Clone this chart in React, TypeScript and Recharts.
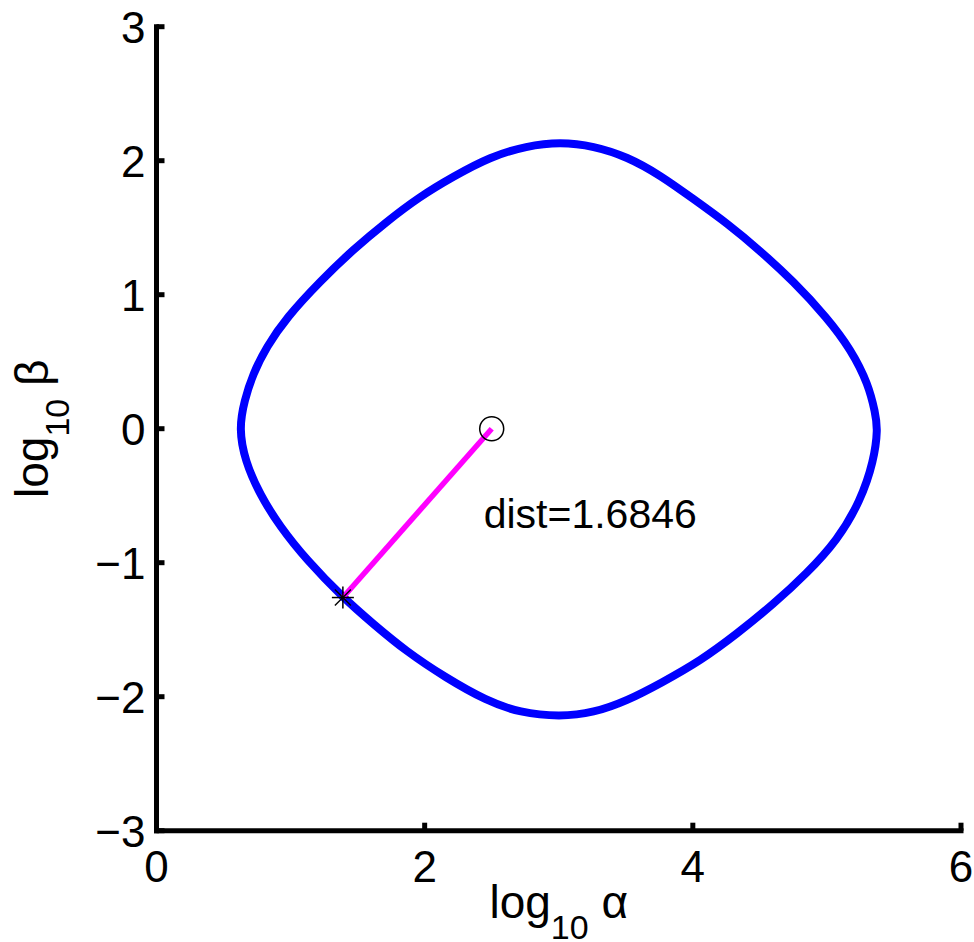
import React from 'react';
import { ComposedChart, Line, Scatter, XAxis, YAxis } from 'recharts';

// Contour of the closed curve (log10 alpha, log10 beta)
const contourLogAlpha = [
  5.38, 5.36, 5.31, 5.18, 5.0, 4.75, 4.5, 4.26, 4.01, 3.76, 3.51, 3.26, 3.01,
  2.76, 2.49, 2.21, 1.96, 1.71, 1.47, 1.22, 0.97, 0.82, 0.72, 0.655, 0.615,
  0.66, 0.77, 0.92, 1.12, 1.39, 1.62, 1.86, 2.16, 2.46, 2.71, 3.01,
  3.26, 3.51, 3.76, 4.06, 4.33, 4.6, 4.85, 5.08, 5.25, 5.35,
];
const contourLogBeta = [
  0.0, 0.12, 0.33, 0.59, 0.83, 1.1, 1.33, 1.53, 1.71, 1.89, 2.03, 2.11, 2.14,
  2.11, 2.03, 1.88, 1.73, 1.54, 1.34, 1.1, 0.83, 0.61, 0.41, 0.21, 0.0,
  -0.24, -0.49, -0.73, -0.98, -1.26, -1.46, -1.66, -1.86, -2.03, -2.12, -2.15,
  -2.12, -2.03, -1.9, -1.73, -1.53, -1.31, -1.08, -0.83, -0.54, -0.24,
];

const centerPoint = [{ x: 2.5, y: 0 }];
const nearestPoint = [{ x: 1.39, y: -1.26 }];
const distanceLine = [centerPoint[0], nearestPoint[0]];
const annotation = [{ x: 2.44, y: -0.74, text: 'dist=1.6846' }];

const xTicks = [0, 2, 4, 6];
const yTicks = [-3, -2, -1, 0, 1, 2, 3];

const contour = contourLogAlpha.map((x, i) => ({ x, y: contourLogBeta[i] }));

const FONT = '"Liberation Sans", Arial, Helvetica, sans-serif';
const TICK_FS = 44;
const LABEL_FS = 46;
const SUB_FS = 34;

const fmt = (v: number) => (v < 0 ? `\u2212${Math.abs(v)}` : `${v}`);

const XTick = (props: any) => {
  const { x, y, payload } = props;
  return (
    <g>
      <line x1={x} y1={y} x2={x} y2={y - 8} stroke="#000" strokeWidth={5} />
      <text x={x} y={y + 51} textAnchor="middle" fontSize={TICK_FS} fontFamily={FONT} fill="#000">
        {fmt(payload.value)}
      </text>
    </g>
  );
};

const YTick = (props: any) => {
  const { x, y, payload } = props;
  return (
    <g>
      <line x1={x} y1={y} x2={x + 8} y2={y} stroke="#000" strokeWidth={5} />
      <text x={x - 11} y={y + 16} textAnchor="end" fontSize={TICK_FS} fontFamily={FONT} fill="#000">
        {fmt(payload.value)}
      </text>
    </g>
  );
};

const XLabel = (props: any) => {
  const vb = props.viewBox || {};
  const cx = vb.x + vb.width / 2;
  const by = vb.y + 87;
  return (
    <text x={cx} y={by} textAnchor="middle" fontSize={LABEL_FS} fontFamily={FONT} fill="#000">
      log
      <tspan fontSize={SUB_FS} dy={21}>10</tspan>
      <tspan dy={-21}>{' \u03b1'}</tspan>
    </text>
  );
};

const YLabel = (props: any) => {
  const vb = props.viewBox || {};
  const lx = vb.x + vb.width - 108;
  const ly = vb.y + vb.height / 2;
  return (
    <text
      x={lx}
      y={ly}
      transform={`rotate(-90, ${lx}, ${ly})`}
      textAnchor="middle"
      fontSize={LABEL_FS}
      fontFamily={FONT}
      fill="#000"
    >
      log
      <tspan fontSize={SUB_FS} dy={21}>10</tspan>
      <tspan dy={-21}>{' \u03b2'}</tspan>
    </text>
  );
};

const CircleMarker = (props: any) => {
  const { cx, cy } = props;
  return <circle cx={cx} cy={cy} r={12} fill="none" stroke="#000" strokeWidth={1.5} />;
};

const StarMarker = (props: any) => {
  const { cx, cy } = props;
  const s = 11;
  const d = 8;
  return (
    <g stroke="#000" strokeWidth={1.5}>
      <line x1={cx - s} y1={cy} x2={cx + s} y2={cy} />
      <line x1={cx} y1={cy - s} x2={cx} y2={cy + s} />
      <line x1={cx - d} y1={cy - d} x2={cx + d} y2={cy + d} />
      <line x1={cx - d} y1={cy + d} x2={cx + d} y2={cy - d} />
    </g>
  );
};

const TextMarker = (props: any) => {
  const { cx, cy, payload } = props;
  return (
    <text x={cx} y={cy} textAnchor="start" fontSize={41} fontFamily={FONT} fill="#000">
      {payload.text}
    </text>
  );
};

export default function App() {
  return (
    <div
      style={{
        width: 974,
        height: 942,
        paddingLeft: 8,
        paddingTop: 8,
        boxSizing: 'border-box',
        background: '#fff',
        overflow: 'hidden',
      }}
    >
      <style>{`html, body { margin: 0 !important; padding: 0; overflow: hidden; } .recharts-wrapper, .recharts-surface { overflow: visible !important; }`}</style>
      <ComposedChart
        width={966}
        height={934}
        margin={{ top: 18.7, right: 13, bottom: 31.3, left: 28.5 }}
      >
        <XAxis
          type="number"
          dataKey="x"
          domain={[0, 6]}
          ticks={xTicks}
          interval={0}
          allowDataOverflow
          height={80}
          tickSize={0}
          tickMargin={0}
          tickLine={false}
          axisLine={{ stroke: '#000', strokeWidth: 5, strokeLinecap: 'square' }}
          tick={<XTick />}
          label={{ content: (p: any) => <XLabel {...p} /> }}
        />
        <YAxis
          type="number"
          dataKey="y"
          domain={[-3, 3]}
          ticks={yTicks}
          interval={0}
          allowDataOverflow
          width={120}
          tickSize={0}
          tickMargin={0}
          tickLine={false}
          axisLine={{ stroke: '#000', strokeWidth: 5, strokeLinecap: 'square' }}
          tick={<YTick />}
          label={{ content: (p: any) => <YLabel {...p} /> }}
        />
        <Line
          data={contour}
          dataKey="y"
          type="basisClosed"
          stroke="#0000ff"
          strokeWidth={8}
          dot={false}
          activeDot={false}
          isAnimationActive={false}
        />
        <Line
          data={distanceLine}
          dataKey="y"
          type="linear"
          stroke="#ff00ff"
          strokeWidth={5.5}
          dot={false}
          activeDot={false}
          isAnimationActive={false}
        />
        <Scatter data={nearestPoint} dataKey="y" shape={<StarMarker />} isAnimationActive={false} />
        <Scatter data={centerPoint} dataKey="y" shape={<CircleMarker />} isAnimationActive={false} />
        <Scatter data={annotation} dataKey="y" shape={<TextMarker />} isAnimationActive={false} />
      </ComposedChart>
    </div>
  );
}
